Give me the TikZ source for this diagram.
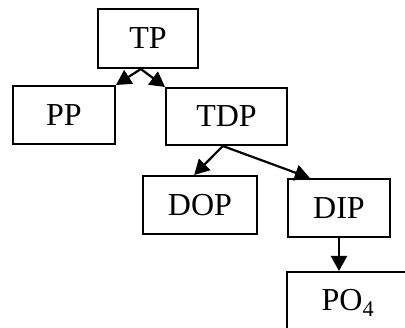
\documentclass[tikz,border=0pt]{standalone}
\usepackage{fontspec}
\setmainfont{Liberation Serif}
\usetikzlibrary{arrows.meta,calc}
\tikzset{
  box/.style={draw, line width=2pt, rectangle, inner sep=0pt, anchor=north west,
    font=\fontsize{32}{37}\selectfont},
  link/.style={line width=2.2pt, -{Triangle[length=15pt,width=16pt]}}
}
\begin{document}
\begin{tikzpicture}[x=1pt,y=-1pt]
\useasboundingbox (0,0) rectangle (405,328);
\clip (0,0) rectangle (405,328);
% boxes
\node[box, minimum width=100pt, minimum height=59pt] (TP)  at (97,8)   {TP};
\node[box, minimum width=102pt, minimum height=58pt] (PP)  at (12,85)  {PP};
\node[box, minimum width=121pt, minimum height=57pt] (TDP) at (165,87) {TDP};
\node[box, minimum width=114pt, minimum height=58pt] (DOP) at (142,175) {DOP};
\node[box, minimum width=102pt, minimum height=58pt] (DIP) at (287,178) {DIP};
\node[box, minimum width=122pt, minimum height=62pt] (PO4) at (286,271) {PO\textsubscript{4}};
% attachment points
\coordinate (tpfoot)  at ($(TP.south west)!0.43!(TP.south east)$);
\coordinate (tdpfoot) at ($(TDP.south west)!0.47!(TDP.south east)$);
\coordinate (doptop)  at ($(DOP.north west)!0.45!(DOP.north east)$);
\coordinate (diptop)  at ($(DIP.north west)!0.22!(DIP.north east)$);
\coordinate (potop)   at (DIP.south |- PO4.north);
% connectors
\draw[link] (tpfoot) -- (PP.north east);
\draw[link] (tpfoot) -- (TDP.north west);
\draw[link] (tdpfoot) -- (doptop);
\draw[link] (tdpfoot) -- (diptop);
\draw[link] (DIP.south) -- (potop);
\end{tikzpicture}
\end{document}
